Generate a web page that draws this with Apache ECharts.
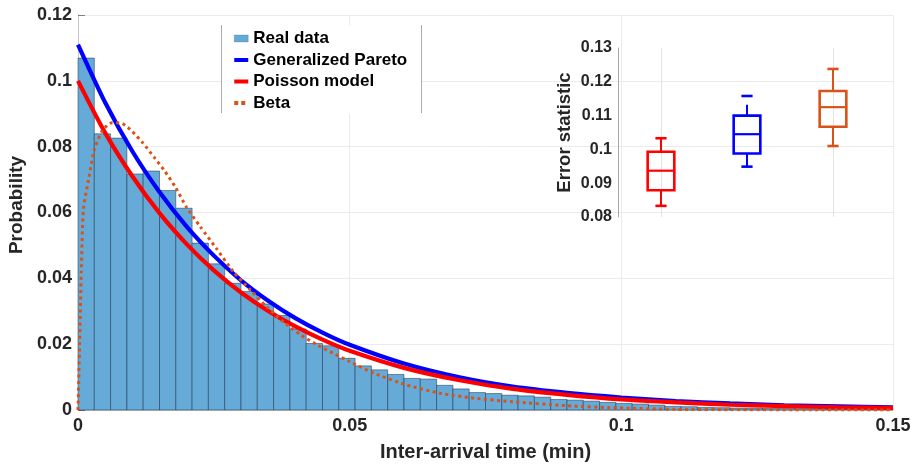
<!DOCTYPE html>
<html>
<head>
<meta charset="utf-8">
<script src="https://cdn.jsdelivr.net/npm/echarts@6/dist/echarts.min.js"></script>
<style>
html,body{margin:0;padding:0;background:#fff;}
#chart{width:915px;height:464px;}
</style>
</head>
<body>
<div id="chart"></div>
<script>
// ---------------- data ----------------
const binWidth = 0.003;
const histValues = [
  0.1069, 0.0839, 0.0826, 0.0717, 0.0726, 0.0667, 0.0613, 0.0507, 0.0444, 0.0385,
  0.0360, 0.0322, 0.0287, 0.0246, 0.0202, 0.0195, 0.0157, 0.0134, 0.0122, 0.0108,
  0.0096, 0.0094, 0.0075, 0.0064, 0.0053, 0.0050, 0.0045, 0.0043, 0.0039, 0.0032,
  0.0030, 0.0027, 0.0023, 0.0020, 0.0018, 0.0015, 0.0011, 0.0010, 0.0008, 0.0007,
  0.0006, 0.0006, 0.0005, 0.0005, 0.0004, 0.0004, 0.0003, 0.0003, 0.0003, 0.0002
];
const curveX = [0, 0.005, 0.01, 0.015, 0.02, 0.025, 0.03, 0.035, 0.04, 0.045, 0.05,
  0.06, 0.07, 0.08, 0.09, 0.1, 0.11, 0.12, 0.13, 0.14, 0.15];
const paretoY = [0.111, 0.0934, 0.0786, 0.0662, 0.0557, 0.0469, 0.0394, 0.0332, 0.0279, 0.0235, 0.0198,
  0.0141, 0.0100, 0.0071, 0.0052, 0.0038, 0.0027, 0.0020, 0.0014, 0.0011, 0.0008];
const poissonY = [0.1, 0.0842, 0.0710, 0.0598, 0.0504, 0.0424, 0.0357, 0.0301, 0.0254, 0.0214, 0.0180,
  0.0128, 0.0091, 0.0064, 0.0046, 0.0032, 0.0023, 0.0016, 0.0012, 0.0008, 0.0006];
const betaX = [0, 0.0003, 0.0006, 0.001, 0.002, 0.003, 0.0045, 0.0063, 0.0082, 0.01, 0.012, 0.014,
  0.016, 0.018, 0.02, 0.0225, 0.0255, 0.0286, 0.0317, 0.0347, 0.0378, 0.041, 0.044, 0.047, 0.05,
  0.0544, 0.0605, 0.0666, 0.0728, 0.08, 0.09, 0.098, 0.11, 0.12, 0.135, 0.15];
const betaY = [0, 0.02, 0.042, 0.061, 0.0705, 0.079, 0.085, 0.0873, 0.087, 0.0846, 0.081, 0.0768,
  0.0725, 0.0675, 0.0615, 0.0557, 0.049, 0.042, 0.0365, 0.0314, 0.0268, 0.0228, 0.0198, 0.0172, 0.0147,
  0.0112, 0.0076, 0.0051, 0.0036, 0.0025, 0.0013, 0.0007, 0.0002, 0.0001, 0, 0];

const seriesNames = ['Real data', 'Generalized Pareto', 'Poisson model', 'Beta'];
const xTickLabels = ['0', '0.05', '0.1', '0.15'];

// inset box plot (Poisson, Generalized Pareto, Beta)
const boxCategories = ['Poisson model', 'Generalized Pareto', 'Beta'];
const whiskerLow  = [0.0833, 0.0949, 0.1010];
const boxQ1       = [0.0879, 0.0988, 0.1067];
const boxMedian   = [0.0937, 0.1045, 0.1125];
const boxQ3       = [0.0993, 0.1100, 0.1173];
const whiskerHigh = [0.1033, 0.1132, 0.1238];
const capHigh     = [0.1033, 0.1158, 0.1238];

// ---------------- styles ----------------
const C_BAR = '#66AAD7', C_BLUE = '#0000FF', C_RED = '#FF0000', C_ORANGE = '#D95319';
const boxColors = [C_RED, C_BLUE, C_ORANGE];
const FONT = '"Liberation Sans", Arial, Helvetica, sans-serif';
const TXT = '#262626';

const histData = histValues.map((v, i) => [i * binWidth, (i + 1) * binWidth, v]);
const zip = (xs, ys) => xs.map((x, i) => [x, ys[i]]);
const boxData = boxCategories.map((c, i) =>
  [i, whiskerLow[i], boxQ1[i], boxMedian[i], boxQ3[i], whiskerHigh[i], capHigh[i]]);

function renderBar(params, api) {
  const p0 = api.coord([api.value(0), api.value(2)]);
  const p1 = api.coord([api.value(1), 0]);
  return {
    type: 'rect',
    shape: { x: p0[0], y: p0[1], width: p1[0] - p0[0], height: p1[1] - p0[1] },
    style: { fill: C_BAR, stroke: 'rgba(20,45,70,0.55)', lineWidth: 0.9 }
  };
}

function renderBox(params, api) {
  const idx = api.value(0);
  const band = api.size([1, 0])[0];
  const bw = band * 0.31, cw = band * 0.13;
  const x = api.coord([idx, api.value(3)])[0];
  const y = k => api.coord([idx, api.value(k)])[1];
  const yLo = y(1), yQ1 = y(2), yMed = y(3), yQ3 = y(4), yHi = y(5), yCap = y(6);
  const col = boxColors[params.dataIndex];
  const ln = (x1, y1, x2, y2, w) => ({ type: 'line', shape: { x1, y1, x2, y2 }, style: { stroke: col, lineWidth: w, fill: null } });
  return {
    type: 'group',
    children: [
      ln(x, yQ3, x, yHi, 2),
      ln(x, yQ1, x, yLo, 2),
      ln(x - cw / 2, yCap, x + cw / 2, yCap, 2.6),
      ln(x - cw / 2, yLo, x + cw / 2, yLo, 2.6),
      { type: 'rect', shape: { x: x - bw / 2, y: yQ3, width: bw, height: yQ1 - yQ3 },
        style: { fill: 'none', stroke: col, lineWidth: 2.6 } },
      ln(x - bw / 2, yMed, x + bw / 2, yMed, 2.2)
    ]
  };
}

const chart = echarts.init(document.getElementById('chart'), null, { renderer: 'canvas' });

const option = {
  backgroundColor: '#ffffff',
  animation: false,
  textStyle: { fontFamily: FONT },
  grid: [
    { left: 78, right: 22, top: 15, bottom: 54, outerBoundsMode: 'none' },
    { left: 618, right: 39, top: 48, bottom: 247, outerBoundsMode: 'none' }
  ],
  xAxis: [
    {
      type: 'value', gridIndex: 0, min: 0, max: 0.15, interval: 0.05,
      name: 'Inter-arrival time (min)', nameLocation: 'middle', nameGap: 32,
      nameTextStyle: { fontFamily: FONT, fontWeight: 'bold', fontSize: 20, color: TXT },
      axisLine: { show: true, lineStyle: { color: '#c8c8c8', width: 1 } },
      axisTick: { show: false },
      axisLabel: {
        margin: 7, fontFamily: FONT, fontWeight: 'bold', fontSize: 18, color: TXT,
        formatter: (v) => { const i = Math.round(v / 0.05); return xTickLabels[i] !== undefined ? xTickLabels[i] : ''; }
      },
      splitLine: { show: true, lineStyle: { color: '#ebebeb', width: 1 } }
    },
    {
      type: 'category', gridIndex: 1, data: boxCategories, boundaryGap: true,
      axisLine: { show: false }, axisTick: { show: false }, axisLabel: { show: false },
      splitLine: { show: true, alignWithLabel: true, lineStyle: { color: '#e3e3e3', width: 1 } }
    }
  ],
  yAxis: [
    {
      type: 'value', gridIndex: 0, min: 0, max: 0.12, interval: 0.02,
      name: 'Probability', nameLocation: 'middle', nameGap: 50,
      nameTextStyle: { fontFamily: FONT, fontWeight: 'bold', fontSize: 19, color: TXT, padding: [0, 0, 0, 15] },
      axisLine: { show: true, lineStyle: { color: '#c8c8c8', width: 1 } },
      axisTick: { show: true, inside: true, length: 7, lineStyle: { color: 'rgba(40,40,40,0.55)', width: 1 } },
      axisLabel: { margin: 6, fontFamily: FONT, fontWeight: 'bold', fontSize: 18, color: TXT },
      splitLine: { show: true, lineStyle: { color: '#ebebeb', width: 1 } }
    },
    {
      type: 'value', gridIndex: 1, min: 0.08, max: 0.13, interval: 0.01,
      name: 'Error statistic', nameLocation: 'middle', nameGap: 44,
      nameTextStyle: { fontFamily: FONT, fontWeight: 'bold', fontSize: 18.5, color: TXT },
      axisLine: { show: true, lineStyle: { color: '#a8a8a8', width: 1 } },
      axisTick: { show: false },
      axisLabel: { margin: 6, fontFamily: FONT, fontWeight: 'bold', fontSize: 16, color: TXT },
      splitLine: { show: false }
    }
  ],
  legend: {
    orient: 'vertical', left: 221, top: 25,
    padding: [5, 14, 2, 13], itemGap: 4.5, itemWidth: 14, itemHeight: 7,
    backgroundColor: '#ffffff', borderWidth: 0,
    textStyle: { fontFamily: FONT, fontWeight: 'bold', fontSize: 17, color: '#000', lineHeight: 17 },
    selectedMode: false,
    data: [
      { name: seriesNames[0], icon: 'rect', itemStyle: { color: C_BAR, borderColor: 'rgba(20,45,70,0.35)', borderWidth: 0.5 } },
      { name: seriesNames[1], icon: 'path://M0,0H14V4H0Z', itemStyle: { color: C_BLUE, borderWidth: 0 } },
      { name: seriesNames[2], icon: 'path://M0,0H14V4H0Z', itemStyle: { color: C_RED, borderWidth: 0 } },
      { name: seriesNames[3], icon: 'path://M0,0H4V4H0ZM7,0H11V4H7ZM14,0H14V4H14Z', itemStyle: { color: C_ORANGE, borderWidth: 0 } }
    ]
  },
  graphic: [
    { type: 'line', shape: { x1: 221.5, y1: 25, x2: 221.5, y2: 113 }, style: { stroke: '#ababab', lineWidth: 1 }, z: 100 },
    { type: 'line', shape: { x1: 421.5, y1: 25, x2: 421.5, y2: 113 }, style: { stroke: '#ababab', lineWidth: 1 }, z: 100 }
  ],
  series: [
    {
      name: seriesNames[0], type: 'custom', xAxisIndex: 0, yAxisIndex: 0,
      renderItem: renderBar, data: histData, encode: { x: [0, 1], y: 2 },
      itemStyle: { color: C_BAR }, z: 1, silent: true
    },
    {
      name: seriesNames[1], type: 'line', xAxisIndex: 0, yAxisIndex: 0,
      data: zip(curveX, paretoY), showSymbol: false, symbol: 'none',
      smooth: 0.25, color: C_BLUE, itemStyle: { color: C_BLUE },
      lineStyle: { color: C_BLUE, width: 4.2 }, z: 2
    },
    {
      name: seriesNames[2], type: 'line', xAxisIndex: 0, yAxisIndex: 0,
      data: zip(curveX, poissonY), showSymbol: false, symbol: 'none',
      smooth: 0.25, color: C_RED, itemStyle: { color: C_RED },
      lineStyle: { color: C_RED, width: 4.2 }, z: 3
    },
    {
      name: seriesNames[3], type: 'line', xAxisIndex: 0, yAxisIndex: 0,
      data: zip(betaX, betaY), showSymbol: false, symbol: 'none',
      smooth: 0.2, color: C_ORANGE, itemStyle: { color: C_ORANGE },
      lineStyle: { color: C_ORANGE, width: 3, type: [3, 3.5], cap: 'butt' }, z: 4
    },
    {
      name: 'Error statistic', type: 'custom', xAxisIndex: 1, yAxisIndex: 1,
      renderItem: renderBox, data: boxData, encode: { x: 0, y: [1, 2, 3, 4, 5, 6] },
      z: 5, silent: true
    }
  ]
};

chart.setOption(option);
</script>
</body>
</html>
